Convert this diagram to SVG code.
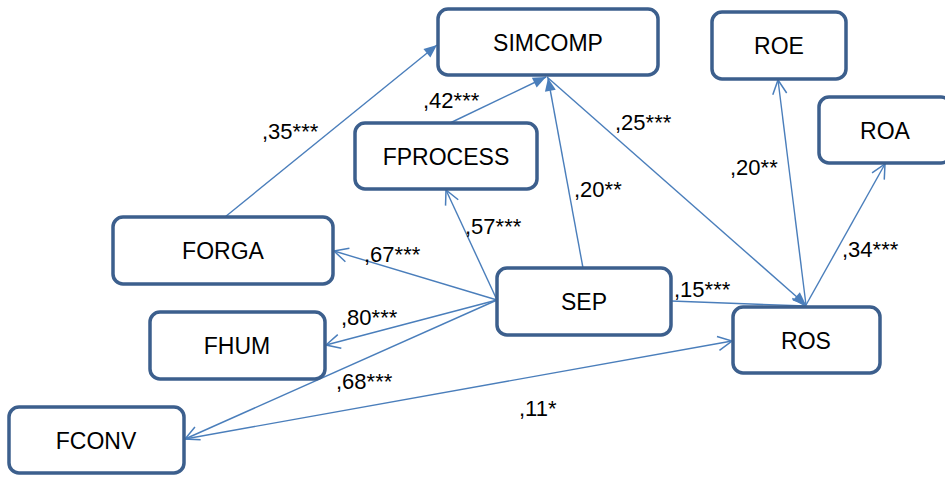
<svg xmlns="http://www.w3.org/2000/svg" width="945" height="478" viewBox="0 0 945 478">
<style>
.box{fill:#fff;stroke:#3c5f8d;stroke-width:3.5}
.t{font-family:"Liberation Sans",Arial,sans-serif;font-size:23px;fill:#000;text-anchor:middle}
.l{font-family:"Liberation Sans",Arial,sans-serif;font-size:22px;fill:#000}
.c{stroke:#4a7ebb;stroke-width:1.4;fill:none}
.o{marker-end:url(#open)}
.f{marker-end:url(#fill)}
</style>
<defs>
<marker id="open" markerUnits="userSpaceOnUse" viewBox="-16 -9 18 18" refX="0" refY="0" markerWidth="18" markerHeight="18" orient="auto">
<path d="M-14,-7 L0,0 L-14,7" fill="none" stroke="#4a7ebb" stroke-width="1.5"/>
</marker>
<marker id="fill" markerUnits="userSpaceOnUse" viewBox="-14 -7 15 14" refX="0" refY="0" markerWidth="15" markerHeight="14" orient="auto">
<path d="M-13,-5.5 L0,0 L-13,5.5 Z" fill="#4a7ebb"/>
</marker>
</defs>
<g id="connectors">
<line class="c f" x1="225" y1="217" x2="437" y2="45"/>
<line class="c f" x1="450" y1="123" x2="546" y2="77"/>
<line class="c f" x1="583" y1="268" x2="548" y2="78"/>
<line class="c f" x1="547" y1="77" x2="806" y2="305"/>
<line class="c o" x1="497" y1="300" x2="446" y2="190"/>
<line class="c o" x1="497" y1="300" x2="334" y2="251"/>
<line class="c o" x1="497" y1="300" x2="326" y2="345"/>
<line class="c o" x1="497" y1="300" x2="185" y2="439"/>
<line class="c o" x1="185" y1="439" x2="732" y2="341"/>
<line class="c o" x1="671" y1="301" x2="806" y2="306"/>
<line class="c o" x1="806" y1="305" x2="778" y2="80"/>
<line class="c o" x1="806" y1="305" x2="885" y2="164"/>
</g>
<g id="labels">
<text class="l" x="262" y="139">,35***</text>
<text class="l" x="423" y="108">,42***</text>
<text class="l" x="615" y="130">,25***</text>
<text class="l" x="574" y="197">,20**</text>
<text class="l" x="465" y="234">,57***</text>
<text class="l" x="364" y="262">,67***</text>
<text class="l" x="674" y="297">,15***</text>
<text class="l" x="341" y="325">,80***</text>
<text class="l" x="336" y="389">,68***</text>
<text class="l" x="519" y="416">,11*</text>
<text class="l" x="730" y="175">,20**</text>
<text class="l" x="842" y="257">,34***</text>
</g>
<g id="SIMCOMP"><rect class="box" x="438" y="9" width="220" height="66" rx="10"/><text class="t" x="548" y="51">SIMCOMP</text></g>
<g id="ROE"><rect class="box" x="712" y="12" width="134" height="67" rx="10"/><text class="t" x="779" y="54">ROE</text></g>
<g id="ROA"><rect class="box" x="819" y="97" width="132" height="66" rx="10"/><text class="t" x="885" y="139">ROA</text></g>
<g id="FPROCESS"><rect class="box" x="355" y="123" width="182" height="66" rx="10"/><text class="t" x="446" y="165">FPROCESS</text></g>
<g id="FORGA"><rect class="box" x="113" y="217" width="220" height="67" rx="10"/><text class="t" x="223" y="259">FORGA</text></g>
<g id="SEP"><rect class="box" x="497" y="268" width="174" height="67" rx="10"/><text class="t" x="584" y="310">SEP</text></g>
<g id="ROS"><rect class="box" x="733" y="307" width="147" height="66" rx="10"/><text class="t" x="806" y="349">ROS</text></g>
<g id="FHUM"><rect class="box" x="150" y="312" width="175" height="67" rx="10"/><text class="t" x="237" y="354">FHUM</text></g>
<g id="FCONV"><rect class="box" x="9" y="407" width="175" height="66" rx="10"/><text class="t" x="96" y="449">FCONV</text></g>
</svg>
